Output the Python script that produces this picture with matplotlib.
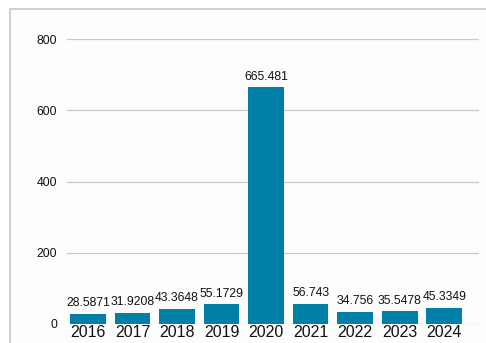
import matplotlib
matplotlib.use('Agg')
import matplotlib.pyplot as plt
from matplotlib.patches import Rectangle

years = ['2016', '2017', '2018', '2019', '2020', '2021', '2022', '2023', '2024']
values = [28.5871, 31.9208, 43.3648, 55.1729, 665.481, 56.743, 34.756, 35.5478, 45.3349]
labels = ['28.5871', '31.9208', '43.3648', '55.1729', '665.481', '56.743', '34.756', '35.5478', '45.3349']
yticks = [0, 200, 400, 600, 800]

plt.rcParams['font.family'] = ['Liberation Sans', 'DejaVu Sans']

fig = plt.figure(figsize=(4.86, 3.43), dpi=100)
fig.patch.set_facecolor('white')
# outer frame (top and left edges visible)
fig.patches.append(Rectangle((10 / 486, -0.1), 1.2, 1 - 9 / 343 + 0.1, transform=fig.transFigure,
                             facecolor='#fdfdfd', edgecolor='#c8c8c8', linewidth=1.2, zorder=-5))

ax = fig.add_axes([67 / 486, 1 - 324 / 343, (479 - 67) / 486, (324 - 39.3) / 343])
ax.set_zorder(2)
ax.patch.set_alpha(0)
x = list(range(len(years)))
ax.bar(x, values, width=0.8, color='#0080a6', zorder=3)
for xi, v, lab in zip(x, values, labels):
    ax.text(xi, v + 13, lab, ha='center', va='bottom', fontsize=8.7, color='#111111')

ax.set_ylim(0, 800)
ax.set_xlim(-0.47, 8.78)
ax.set_yticks(yticks)
ax.set_xticks(x)
ax.set_xticklabels(years, fontsize=11.5, color='#111111')
ax.tick_params(axis='y', length=0, pad=7, labelsize=8.8, labelcolor='#111111')
ax.tick_params(axis='x', length=0, pad=1)
ax.grid(axis='y', color='#c8c8c8', linewidth=0.9, zorder=0)
for s in ax.spines.values():
    s.set_visible(False)

plt.savefig('out.png', dpi=100)
